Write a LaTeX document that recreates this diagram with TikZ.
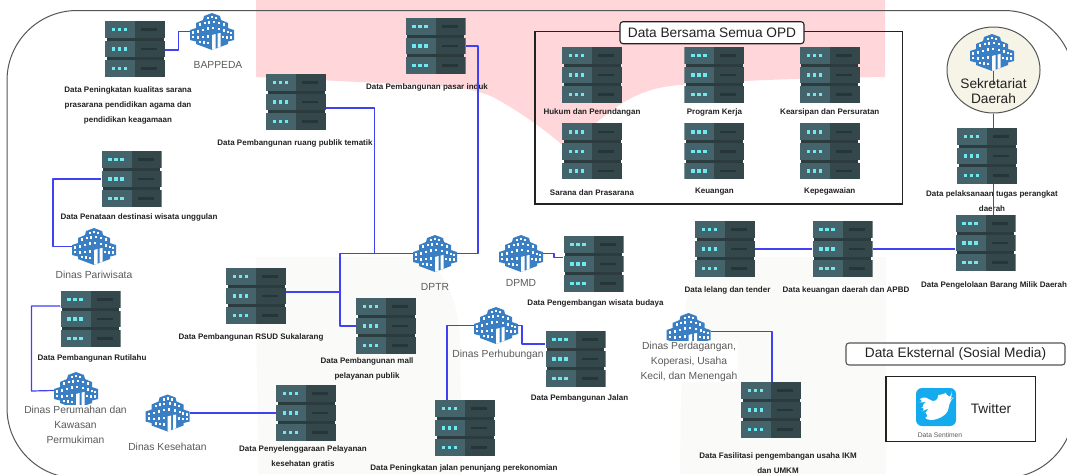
\documentclass[tikz,border=0pt]{standalone}
\usepackage{xcolor}
\usepackage{fontspec}
\setmainfont{Liberation Sans}
\definecolor{linkcol}{RGB}{64, 64, 245}
\definecolor{framecol}{RGB}{85, 85, 85}
\definecolor{pinkcol}{RGB}{255, 214, 218}
\definecolor{greycol}{RGB}{250, 250, 249}
\definecolor{srvleft}{RGB}{69, 99, 107}
\definecolor{srvright}{RGB}{52, 71, 74}
\definecolor{srvgap}{RGB}{44, 60, 62}
\definecolor{srvslot}{RGB}{38, 54, 56}
\definecolor{srvled}{RGB}{112, 232, 240}
\definecolor{bldcol}{RGB}{58, 126, 196}
\definecolor{textcol}{RGB}{34, 34, 34}
\definecolor{deptcol}{RGB}{90, 90, 90}
\definecolor{sekcol}{RGB}{246, 243, 231}
\definecolor{twitcol}{RGB}{20, 170, 238}
\usepackage{tikz}
\usetikzlibrary{positioning, shapes.geometric, calc}

\tikzset{
  serverbox/.style={minimum width=60pt, minimum height=56pt, inner sep=0pt,
    path picture={
      \foreach \uy in {-28, -8.4, 11.2} {
        \fill[srvleft] (-30, \uy) rectangle (0, \uy+16.8);
        \fill[srvright] (0, \uy) rectangle (30, \uy+16.8);
        \fill[srvslot] (6, \uy+7.2) rectangle (22, \uy+9.6);
        \foreach \ux in {-21.5, -15.5, -9.5}
          \fill[srvled] (\ux-1.7, \uy+6.7) rectangle (\ux+1.7, \uy+10.1);
      }
      \fill[srvgap] (-28.5, -11.2) rectangle (28.5, -8.4);
      \fill[srvgap] (-28.5, 8.4) rectangle (28.5, 11.2);
    }},
  bldbox/.style={minimum width=44pt, minimum height=37pt, inner sep=0pt,
    path picture={
      \fill[bldcol] (0, -18.5) -- (8, -15.5) -- (9, -11.5) -- (16, -8.5) -- (16, -3.5)
        -- (22, -1.5) -- (22, 8.5) -- (16, 10) -- (16, 12.5) -- (0, 18.5)
        -- (-16, 12.5) -- (-16, 10) -- (-22, 8.5) -- (-22, -1.5) -- (-16, -3.5)
        -- (-16, -8.5) -- (-9, -11.5) -- (-8, -15.5) -- cycle;
      \foreach \wx/\wy in {-4/-13.5, 0/-14.5, 4/-13.5,
          -12/-7, -7.5/-8.5, -3.5/-9, 2/-9.5, 7/-8.5, 11.5/-7,
          -19/1, -14/0, -9/-1.5, -4/-3, 1/-3.5, 7/-2.5, 12/-1, 15.5/0.5, 19/1.5,
          -19/5.5, -14/6, -9/5.5, -4/5, 11/5.5, 15/6, 19/6,
          -12/10.5, -8/11, -4/11.5}
        \fill[white] (\wx-1, \wy-1.4) rectangle (\wx+1, \wy+1.4);
      \fill[white] (0, 3.5) -- (3.5, 2.5) -- (3.5, 17.5) -- (0, 18.3) -- cycle;
      \fill[white] (5.5, 2) -- (8.5, 1.5) -- (8.5, 15) -- (5.5, 16.5) -- cycle;
    }},
  datalabel/.style={font=\fontsize{8}{15}\selectfont\bfseries, text=textcol,
    align=center, inner sep=0pt},
  deptlabel/.style={font=\fontsize{10.3}{15}\selectfont, text=deptcol,
    align=center, inner sep=1pt},
  link/.style={draw=linkcol, line width=1.2pt, line join=round},
  boxtitle/.style={draw=textcol, line width=1.1pt, rounded corners=3pt, fill=white,
    text=textcol, font=\fontsize{13.7}{15}\selectfont, inner sep=0pt}
}

\begin{document}
\begin{tikzpicture}[x=1pt, y=-1pt]
  \useasboundingbox (0, 0) rectangle (1067, 474);
  \fill[white] (0, 0) rectangle (1067, 474);

  % background areas
  \fill[pinkcol] (256, 0) -- (256, 77) -- (400, 84)
    .. controls (450, 86) and (480, 88) .. (500, 101)
    .. controls (530, 118) and (555, 138) .. (568, 150)
    .. controls (578, 140) and (590, 130) .. (596, 123)
    .. controls (620, 103) and (640, 88) .. (680, 85)
    .. controls (740, 80) and (820, 78) .. (885, 77) -- (885, 0) -- cycle;
  \fill[greycol] (256, 257) -- (415, 257)
    .. controls (445, 265) and (458, 300) .. (460, 340)
    -- (462, 474) -- (258, 474) -- cycle;
  \fill[greycol] (886, 257) -- (886, 474) -- (680, 474) -- (682, 340)
    .. controls (684, 300) and (690, 280) .. (705, 257) -- cycle;

  % outer frame
  \draw[framecol, line width=1pt, rounded corners=70pt] (7, 10.5) rectangle (1074, 478);

  % servers
  \node[serverbox] (srvsarana) at (135, 49) {};
  \node[serverbox] (srvruang) at (296, 102) {};
  \node[serverbox] (srvpasar) at (435.5, 46) {};
  \node[serverbox] (srvwisata) at (131.5, 179) {};
  \node[serverbox] (srvrutilahu) at (90.5, 319) {};
  \node[serverbox] (srvrsud) at (256, 296) {};
  \node[serverbox] (srvmall) at (386, 326) {};
  \node[serverbox] (srvkes) at (306, 413) {};
  \node[serverbox] (srvekon) at (465, 428) {};
  \node[serverbox] (srvjalan) at (575.5, 359) {};
  \node[serverbox] (srvbudaya) at (593.5, 264) {};
  \node[serverbox] (srvikm) at (771, 410) {};
  \node[serverbox] (srvlelang) at (725, 249) {};
  \node[serverbox] (srvapbd) at (842.5, 249) {};
  \node[serverbox] (srvbmd) at (985.5, 243) {};
  \node[serverbox] (srvtugas) at (987, 156) {};

  % shared data
  \node[serverbox] (srvhukum) at (592, 75) {};
  \node[serverbox, right=62pt of srvhukum] (srvprogram) {};
  \node[serverbox, right=55pt of srvprogram] (srvarsip) {};
  \node[serverbox, below=20pt of srvhukum] (srvsarpras) {};
  \node[serverbox, below=20pt of srvprogram] (srvkeu) {};
  \node[serverbox, below=20pt of srvarsip] (srvpegawai) {};
  \draw[textcol, line width=1.1pt] (535, 31.5) rectangle (902.5, 204);
  \node[boxtitle, minimum width=184pt, minimum height=22pt] (ttlopd) at (712, 32.7) {Data Bersama Semua OPD};
  \node[datalabel, below=5pt of srvhukum] (lblhukum) {Hukum dan Perundangan};
  \node[datalabel, below=5pt of srvprogram] (lblprogram) {Program Kerja};
  \node[datalabel, below=5pt of srvarsip] (lblarsip) {Kearsipan dan Persuratan};
  \node[datalabel, below=10pt of srvsarpras] (lblsarpras) {Sarana dan Prasarana};
  \node[datalabel, below=8pt of srvkeu] (lblkeu) {Keuangan};
  \node[datalabel, below=8pt of srvpegawai] (lblpegawai) {Kepegawaian};

  % offices
  \node[bldbox] (bldbappeda) at (212, 31.5) {};
  \node[bldbox] (bldwisata) at (94, 246.5) {};
  \node[bldbox] (bldrumah) at (76, 390.5) {};
  \node[bldbox] (bldkes) at (167.5, 413) {};
  \node[bldbox] (blddptr) at (435, 253.5) {};
  \node[bldbox] (blddpmd) at (521, 253.5) {};
  \node[bldbox] (bldhub) at (496, 325.5) {};
  \node[bldbox] (bldumkm) at (688.5, 331.5) {};
  \node[ellipse, draw=framecol, line width=1pt, fill=sekcol, minimum width=93pt,
        minimum height=86pt, inner sep=0pt] (sekda) at (993.5, 70) {};
  \node[bldbox] (bldsekda) at (992, 52.5) {};
  \coordinate (sekdrop) at (993.5, 85);

  % data labels
  \node[datalabel] (lblsarana) at (128, 105) {Data Peningkatan kualitas sarana\\prasarana pendidikan agama dan\\pendidikan keagamaan};
  \node[datalabel] (lblruang) at (295, 143) {Data Pembangunan ruang publik tematik};
  \node[datalabel] (lblpasar) at (427, 87.5) {Data Pembangunan pasar induk};
  \node[datalabel] (lblwisata) at (139, 217) {Data Penataan destinasi wisata unggulan};
  \node[datalabel] (lblrutilahu) at (92, 358) {Data Pembangunan Rutilahu};
  \node[datalabel] (lblrsud) at (251, 337) {Data Pembangunan RSUD Sukalarang};
  \node[datalabel] (lblmall) at (367, 368.5) {Data Pembangunan mall\\pelayanan publik};
  \node[datalabel] (lblkes) at (303, 456.5) {Data Penyelenggaraan Pelayanan\\kesehatan gratis};
  \node[datalabel] (lblekon) at (464, 468) {Data Peningkatan jalan penunjang perekonomian};
  \node[datalabel] (lbljalan) at (579.5, 398.5) {Data Pembangunan Jalan};
  \node[datalabel] (lblbudaya) at (595.5, 303) {Data Pengembangan wisata budaya};
  \node[datalabel] (lblikm) at (778, 463) {Data Fasilitasi pengembangan usaha IKM\\dan UMKM};
  \node[datalabel] (lbllelang) at (727.5, 290) {Data lelang dan tender};
  \node[datalabel, fill=white, inner sep=1pt] (lblapbd) at (846, 290) {Data keuangan daerah dan APBD};
  \node[datalabel] (lblbmd) at (994, 285) {Data Pengelolaan Barang Milik Daerah};
  \node[datalabel] (lbltugas) at (992, 201) {Data pelaksanaan tugas perangkat\\daerah};

  % office labels
  \node[deptlabel] (lblbappeda) at (218, 65) {BAPPEDA};
  \node[deptlabel] (lbldpariwisata) at (94, 275) {Dinas Pariwisata};
  \node[deptlabel, fill=white] (lblrumah) at (75.5, 425) {Dinas Perumahan dan\\Kawasan\\Permukiman};
  \node[deptlabel] (lbldkes) at (167.5, 447) {Dinas Kesehatan};
  \node[deptlabel] (lbldptr) at (435, 287) {DPTR};
  \node[deptlabel] (lbldpmd) at (521, 283) {DPMD};
  \node[deptlabel] (lblhub) at (498, 355) {Dinas Perhubungan};
  \node[deptlabel, fill=white] (lblumkm) at (689, 361.5) {Dinas Perdagangan,\\Koperasi, Usaha\\Kecil, dan Menengah};

  % connectors
  \draw[link] ($(srvsarana.east)+(0, 1)$) -- ++(13, 0) |- (bldbappeda.west);
  \draw[link] ($(srvruang.east)+(0, 6)$) -| (374.5, 253.5);
  \draw[link] (srvwisata.west) -| (53, 246.5) -- (bldwisata.west);
  \draw[link] ($(srvrutilahu.west)+(0, -13)$) -| (31.5, 391) -- (bldrumah.west);
  \draw[link] (blddptr.west) -- (340, 253.5) |- (srvmall.west);
  \draw[link] ($(srvrsud.east)+(0, -4)$) -- (340, 292);
  \draw[link] (blddptr.east) -- (478, 253.5) |- (srvpasar.east);
  \draw[link] (bldkes.east) -- (srvkes.west);
  \draw[link] (bldhub.west) -| ($(srvekon.north)+(-18, 0)$);
  \draw[link] (bldhub.east) -- (522, 325.5) |- ($(srvjalan.west)+(0, -15)$);
  \draw[link] (blddpmd.east) -- (554, 253.5) |- ($(srvbudaya.west)+(0, -6.3)$);
  \draw[link] (srvlelang.east) -- (srvapbd.west);
  \draw[link] (srvapbd.east) -- (srvbmd.west |- srvapbd.east);
  \draw[link] (bldumkm.east) -| ($(srvikm.north)+(1, 0)$);
  \draw[link] (bldsekda.south -| sekdrop) -- (sekdrop);
  \draw[link] (sekda.south) -- (sekda.south |- srvtugas.north);
  \draw[link] (srvtugas.south -| sekda.south) -- (srvbmd.north -| sekda.south);

  \node[font=\fontsize{13.7}{15}\selectfont, text=textcol, align=center] (lblsekda) at (993.5, 91.5) {Sekretariat\\Daerah};

  % external data
  \node[boxtitle, draw=framecol, minimum width=219pt, minimum height=22pt] (ttleks) at (955.5, 354) {Data Eksternal (Sosial Media)};
  \node[draw=textcol, line width=1.1pt, fill=white, minimum width=149.5pt, minimum height=64.5pt, inner sep=0pt] (boxtwit) at (960.7, 409) {};
  \node[fill=twitcol, rounded corners=6pt, minimum width=40pt, minimum height=38pt, inner sep=0pt,
        path picture={
          \fill[white, scale=0.8] (16, -10) .. controls (13, -9) and (13, -9) .. (12, -9)
            .. controls (10, -13) and (2, -12) .. (3, -6)
            .. controls (-4, -6) and (-9, -9) .. (-13, -12)
            .. controls (-15, -9) and (-13, -6) .. (-11.5, -4.5)
            .. controls (-13, -4.5) and (-13.5, -5) .. (-14, -5)
            .. controls (-13.5, -1) and (-12, 1) .. (-9, 2)
            .. controls (-10, 2.5) and (-11, 2) .. (-11.5, 2)
            .. controls (-10.5, 5) and (-9, 6) .. (-6, 7)
            .. controls (-8, 9) and (-11, 10) .. (-14, 10)
            .. controls (-2, 15) and (12, 9) .. (13, -5)
            .. controls (14, -6) and (15, -8) .. (16, -10) -- cycle;
        }] (twitico) at (936, 407) {};
  \node[font=\fontsize{13.7}{15}\selectfont, text=textcol] (lbltwit) at (991, 409) {Twitter};
  \node[font=\fontsize{6.7}{8}\selectfont, text=deptcol, inner sep=0pt] (lblsentimen) at (940, 435.5) {Data Sentimen};
\end{tikzpicture}
\end{document}
